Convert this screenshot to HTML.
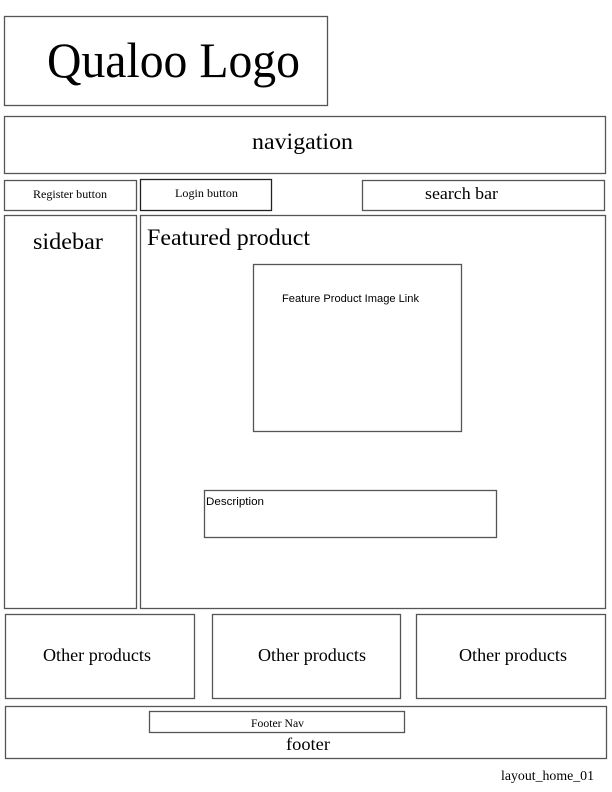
<!DOCTYPE html>
<html><head><meta charset="utf-8"><style>
html,body{margin:0;padding:0;background:#fff;}
svg{display:block;}
.s{font-family:"Liberation Serif",serif;fill:#000;}
.a{font-family:"Liberation Sans",sans-serif;fill:#000;}
rect{fill:none;stroke:#555;stroke-width:1.3;}
</style></head><body>
<svg width="612" height="792" viewBox="0 0 612 792" xmlns="http://www.w3.org/2000/svg">
<rect x="4.5" y="16.5" width="323" height="89"/>
<text class="s" x="47" y="77" font-size="50" textLength="253" lengthAdjust="spacingAndGlyphs">Qualoo Logo</text>
<rect x="4.5" y="116.5" width="601" height="57"/>
<text class="s" x="252" y="149" font-size="23" textLength="101" lengthAdjust="spacingAndGlyphs">navigation</text>
<rect x="4.5" y="180.5" width="132" height="30"/>
<text class="s" x="33" y="198" font-size="11.5" textLength="74" lengthAdjust="spacingAndGlyphs">Register button</text>
<rect x="140.5" y="179.5" width="131" height="31" style="stroke:#222"/>
<text class="s" x="175" y="197" font-size="11.5" textLength="63" lengthAdjust="spacingAndGlyphs">Login button</text>
<rect x="362.5" y="180.5" width="242" height="30"/>
<text class="s" x="425" y="199" font-size="17" textLength="73" lengthAdjust="spacingAndGlyphs">search bar</text>
<rect x="4.5" y="215.5" width="132" height="393"/>
<text class="s" x="33" y="249" font-size="23" textLength="70" lengthAdjust="spacingAndGlyphs">sidebar</text>
<rect x="140.5" y="215.5" width="465" height="393"/>
<text class="s" x="147" y="245" font-size="23" textLength="163" lengthAdjust="spacingAndGlyphs">Featured product</text>
<rect x="253.5" y="264.5" width="208" height="167"/>
<text class="a" x="282" y="302" font-size="11" textLength="137" lengthAdjust="spacingAndGlyphs">Feature Product Image Link</text>
<rect x="204.5" y="490.5" width="292" height="47"/>
<text class="a" x="206" y="505" font-size="11" textLength="58" lengthAdjust="spacingAndGlyphs">Description</text>
<rect x="5.5" y="614.5" width="189" height="84"/>
<text class="s" x="43" y="661" font-size="18" textLength="108" lengthAdjust="spacingAndGlyphs">Other products</text>
<rect x="212.5" y="614.5" width="188" height="84"/>
<text class="s" x="258" y="661" font-size="18" textLength="108" lengthAdjust="spacingAndGlyphs">Other products</text>
<rect x="416.5" y="614.5" width="189" height="84"/>
<text class="s" x="459" y="661" font-size="18" textLength="108" lengthAdjust="spacingAndGlyphs">Other products</text>
<rect x="5.5" y="706.5" width="601" height="52"/>
<rect x="149.5" y="711.5" width="255" height="21"/>
<text class="s" x="251" y="727" font-size="11.5" textLength="53" lengthAdjust="spacingAndGlyphs">Footer Nav</text>
<text class="s" x="286" y="750" font-size="18" textLength="44" lengthAdjust="spacingAndGlyphs">footer</text>
<text class="s" x="501" y="780" font-size="13.5" textLength="93" lengthAdjust="spacingAndGlyphs">layout_home_01</text>
</svg>
</body></html>
